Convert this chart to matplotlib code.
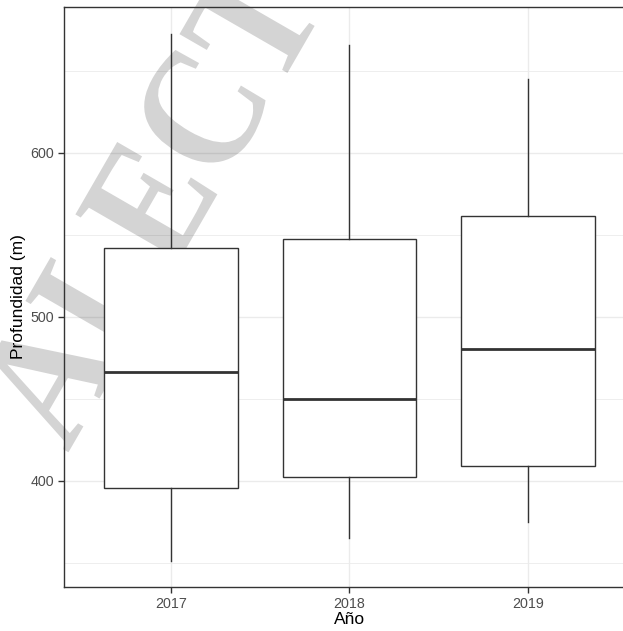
import matplotlib
matplotlib.use("Agg")
import matplotlib.pyplot as plt
from matplotlib.ticker import MultipleLocator
from matplotlib.textpath import TextPath
from matplotlib.font_manager import FontProperties
from matplotlib.patches import PathPatch
from matplotlib.transforms import Affine2D, IdentityTransform

# five-number summaries per year (metres)
years = ["2017", "2018", "2019"]
whisker_low = [351, 365, 375]
q1 = [395.6, 402.1, 409.1]
medians = [466.5, 450.0, 480.5]
q3 = [542.1, 547.6, 561.8]
whisker_high = [672.4, 665.7, 645.1]

W, H = 623, 631
plt.rcParams["font.family"] = ["Liberation Sans", "DejaVu Sans"]
fig = plt.figure(figsize=(W / 100, H / 100), dpi=100)

# panel spans past the right edge of the image
ax = fig.add_axes([64 / W, 1 - 587 / H, (635 - 64) / W, (587 - 7) / H])

stats = []
for i in range(len(years)):
    stats.append({"whislo": whisker_low[i], "q1": q1[i], "med": medians[i],
                  "q3": q3[i], "whishi": whisker_high[i], "fliers": [],
                  "label": years[i]})

edge = "#333333"
ax.bxp(stats, positions=[1, 2, 3], widths=0.75, showcaps=False,
       patch_artist=True,
       boxprops=dict(facecolor="white", edgecolor=edge, linewidth=1.0),
       whiskerprops=dict(color=edge, linewidth=1.0),
       medianprops=dict(color=edge, linewidth=2.0),
       zorder=3)

ax.set_xlim(0.4, 3.6)
ax.set_ylim(335.2, 689)
ax.yaxis.set_major_locator(MultipleLocator(100))
ax.yaxis.set_minor_locator(MultipleLocator(50))

# grid drawn by hand so it sits under everything else
for y in range(350, 689, 50):
    ax.axhline(y, color="#ebebeb", linewidth=1.0 if y % 100 == 0 else 0.6,
               zorder=0.2)
for x in [1, 2, 3]:
    ax.axvline(x, color="#ebebeb", linewidth=1.0, zorder=0.2)

for s in ax.spines.values():
    s.set_color(edge)
    s.set_linewidth(1.0)

ax.tick_params(axis="both", which="major", length=4, width=1.0, color=edge,
               labelcolor="#4d4d4d", labelsize=10.3, pad=3)
ax.tick_params(axis="y", which="minor", length=0)

ax.set_xlabel("Año", fontsize=12.5, color="black", labelpad=1)
ax.set_ylabel("Profundidad (m)", fontsize=12.5, color="black", labelpad=3)

# diagonal watermark, above the grid but under the boxes;
# drawn as a path so the letters can be stretched a little in height
wm = TextPath((0, 0), "ALECT", size=150,
              prop=FontProperties(family="Liberation Serif", weight="bold"))
ext = wm.get_extents()
wm_tr = (Affine2D()
         .translate(-(ext.x0 + ext.x1) / 2, -(ext.y0 + ext.y1) / 2)
         .scale(1.0, 1.15)
         .rotate_deg(60)
         .translate(148, H - 202))
patch = PathPatch(wm_tr.transform_path(wm), transform=IdentityTransform(),
                  facecolor="black", edgecolor="none", alpha=0.17,
                  zorder=1, clip_on=False)
ax.add_artist(patch)

fig.savefig("out.png", dpi=100)
